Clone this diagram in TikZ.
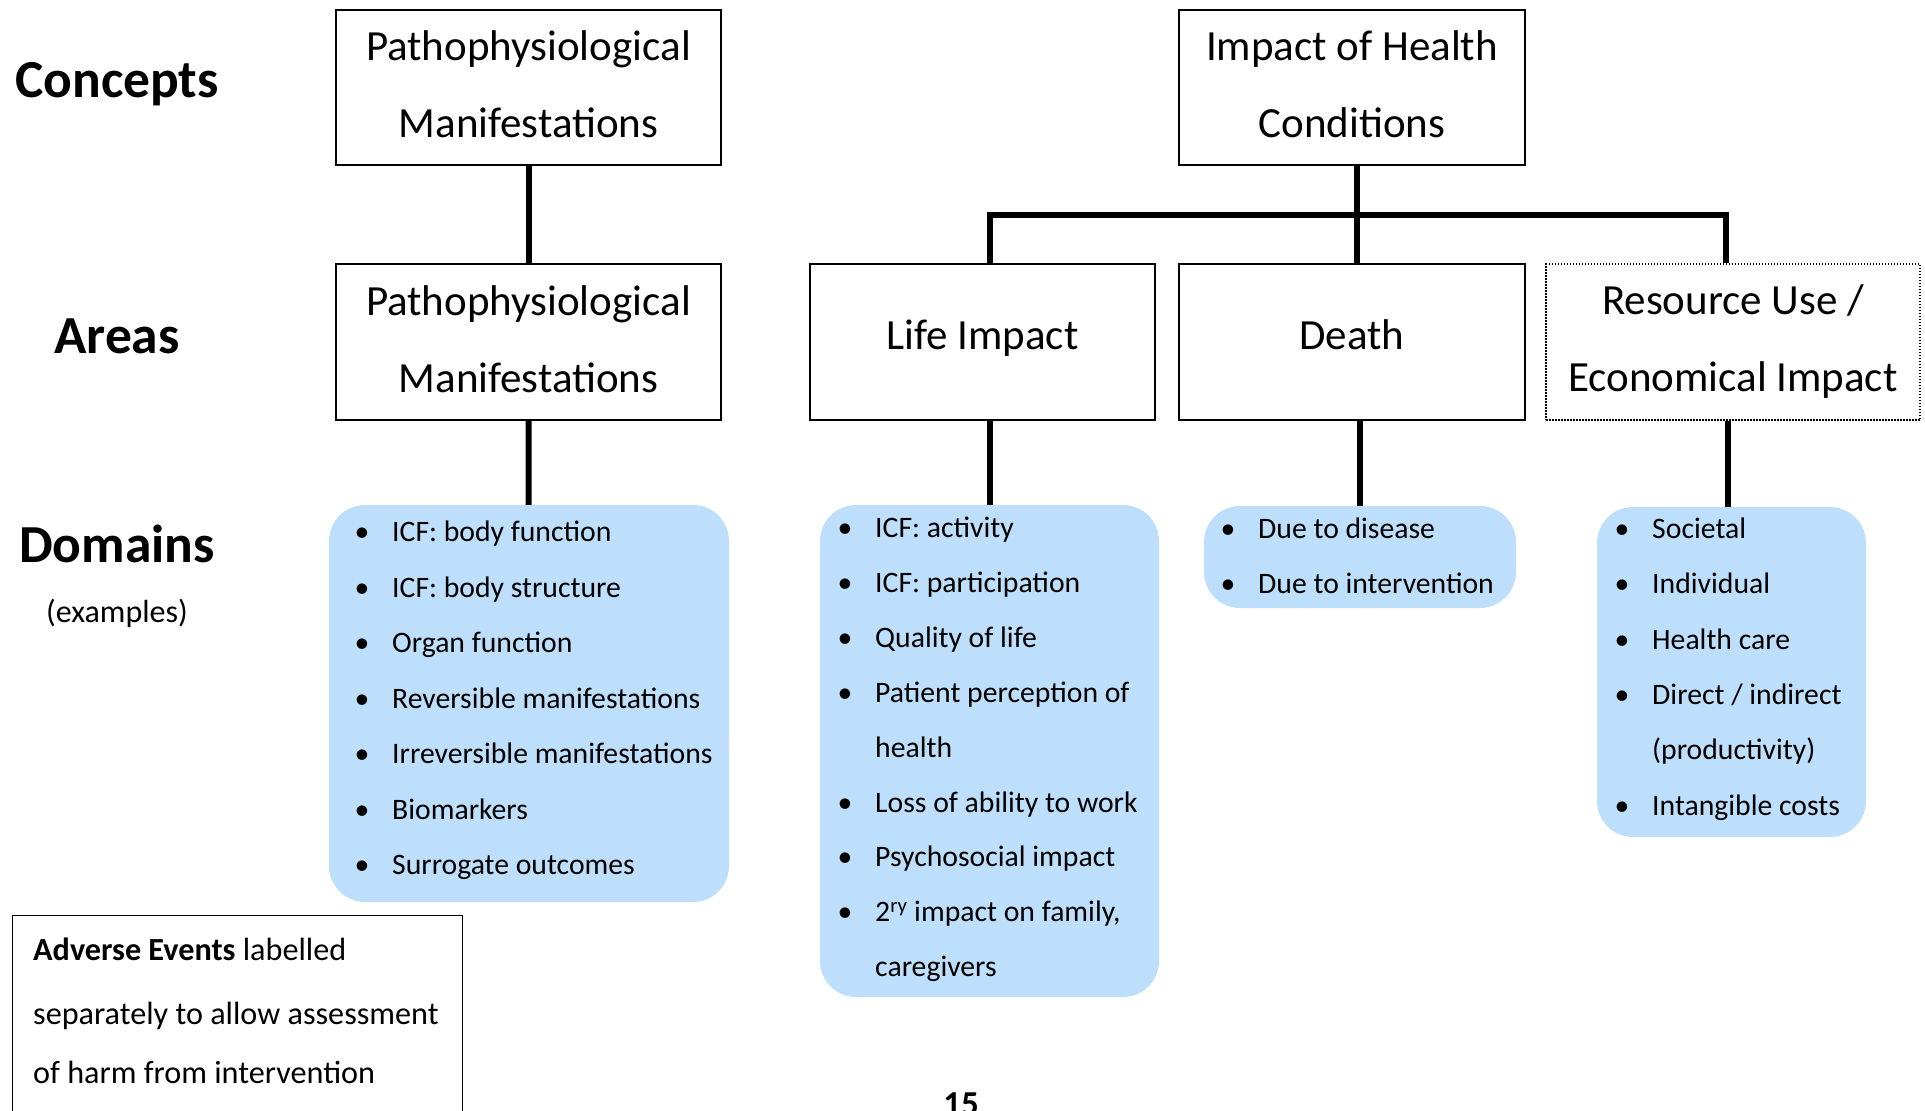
\documentclass[tikz,border=0pt]{standalone}
\usepackage{fontspec}
\setmainfont{Carlito}
\usetikzlibrary{calc}
\definecolor{domblue}{RGB}{189,223,252}

% one bulleted column: box name, bullet x, text x, first baseline, line step, items (b = bullet, n = continuation)
\newcommand{\domitems}[6]{%
  \foreach \b/\t [count=\i] in {#6} {
    \pgfmathsetmacro{\yy}{#4+(\i-1)*#5}
    \node[item] (#1l\i) at (#3,\yy) {\t};
    \if\b b\node[dot] (#1b\i) at (#2,\yy) {\textbullet};\fi
  }%
}
% extra depth under a title block, to lift it a little inside its box
\newcommand{\lift}[1]{\rule[-#1]{0pt}{0pt}}

\begin{document}
\begin{tikzpicture}[x=1pt,y=-1pt,
  box/.style={draw, line width=1.4pt, inner sep=0pt, align=center,
              font=\fontsize{43}{77}\selectfont},
  dotbox/.style={box, dash pattern=on 1.5pt off 1.5pt},
  dom/.style={fill=domblue, rounded corners=36pt, inner sep=0pt},
  link/.style={line width=6pt, line join=miter},
  head/.style={font=\fontsize{53.5}{60}\selectfont\bfseries, anchor=base, inner sep=0pt},
  item/.style={font=\fontsize{29.7}{35}\selectfont, anchor=base west, inner sep=0pt},
  dot/.style={font=\fontsize{29.7}{35}\selectfont, anchor=base, inner sep=0pt},
  note/.style={font=\fontsize{32.2}{38}\selectfont, anchor=base west, inner sep=0pt},
]
\useasboundingbox (0,0) rectangle (1925,1111);

% row labels
\node[head] (hcon) at (117,97) {Concepts};
\node[head] (hare) at (117,353) {Areas};
\node[head] (hdom) at (117,562) {Domains};
\node[font=\fontsize{32}{36}\selectfont, anchor=base, inner sep=0pt] (hex) at (117,622) {(examples)};

% concepts
\node[box, minimum width=385pt, minimum height=155pt] (c1) at (528.5,87.5)
  {Pathophysiological\\Manifestations\lift{7.4pt}};
\node[box, minimum width=346pt, minimum height=155pt] (c2) at (1352,87.5)
  {Impact of Health\\Conditions\lift{7.4pt}};

% areas
\node[box, minimum width=385pt, minimum height=156pt] (a1) at (528.5,342)
  {Pathophysiological\\Manifestations\lift{5pt}};
\node[box, minimum width=345pt, minimum height=156pt] (a2) at (982.5,342) {Life Impact\lift{14.8pt}};
\node[box, minimum width=346pt, minimum height=156pt] (a3) at (1352,342) {Death\lift{14.8pt}};
\node[dotbox, minimum width=374pt, minimum height=156pt] (a4) at (1733,342)
  {Resource Use /\\Economical Impact};

% domains
\node[dom, minimum width=400pt, minimum height=397pt] (d1) at (529,703.5) {};
\node[dom, minimum width=339pt, minimum height=492pt] (d2) at (989.5,751) {};
\node[dom, minimum width=312pt, minimum height=102pt] (d3) at (1360,557) {};
\node[dom, minimum width=269pt, minimum height=330pt] (d4) at (1731.5,672) {};

\domitems{d1}{362}{392}{541.5}{55.5}{b/ICF: body function, b/ICF: body structure,
  b/Organ function, b/Reversible manifestations, b/Irreversible manifestations,
  b/Biomarkers, b/Surrogate outcomes}
\domitems{d2}{845}{875}{537.5}{54.9}{b/ICF: activity, b/ICF: participation,
  b/Quality of life, b/Patient perception of, n/health, b/Loss of ability to work,
  b/Psychosocial impact, b/{2\textsuperscript{ry} impact on family,}, n/caregivers}
\domitems{d3}{1228}{1258}{538.5}{55}{b/Due to disease, b/Due to intervention}
\domitems{d4}{1622}{1652}{538.5}{55.3}{b/Societal, b/Individual, b/Health care,
  b/{Direct / indirect}, n/(productivity), b/Intangible costs}

% connectors
\draw[link] (c1) -- (a1);
\coordinate (trunk) at ($(c2.south)+(5,0)$);
\draw[link] (trunk) -- (trunk |- a3.north);
\coordinate (bar) at ($(c2.south)!0.5!(a3.north)+(5,0)$);
\coordinate (rtop) at ($(a4.north -| d4.north)+(-6,0)$);
\draw[link] (a2.north -| d2.north) |- (bar) -| (rtop);
\draw[link] (a1) -- (d1);
\draw[link] (a2.south -| d2.north) -- (d2.north);
\draw[link] (a3.south -| d3.north) -- (d3.north);
\coordinate (rbot) at ($(d4.north)+(-4,0)$);
\draw[link] (rbot |- a4.south) -- (rbot);

% adverse events note
\node[draw, line width=1.4pt, minimum width=450pt, minimum height=220pt,
      anchor=north west, inner sep=0pt] (ae) at (12,915) {};
\node[note] (ae1) at (33,960) {\textbf{Adverse Events} labelled};
\node[note] (ae2) at (33,1024) {separately to allow assessment};
\node[note] (ae3) at (33,1083) {of harm from intervention};

% page number, running off the lower edge
\node[font=\fontsize{35}{40}\selectfont\bfseries, anchor=base, inner sep=0pt] (pg) at (961,1115) {15};
\end{tikzpicture}
\end{document}
